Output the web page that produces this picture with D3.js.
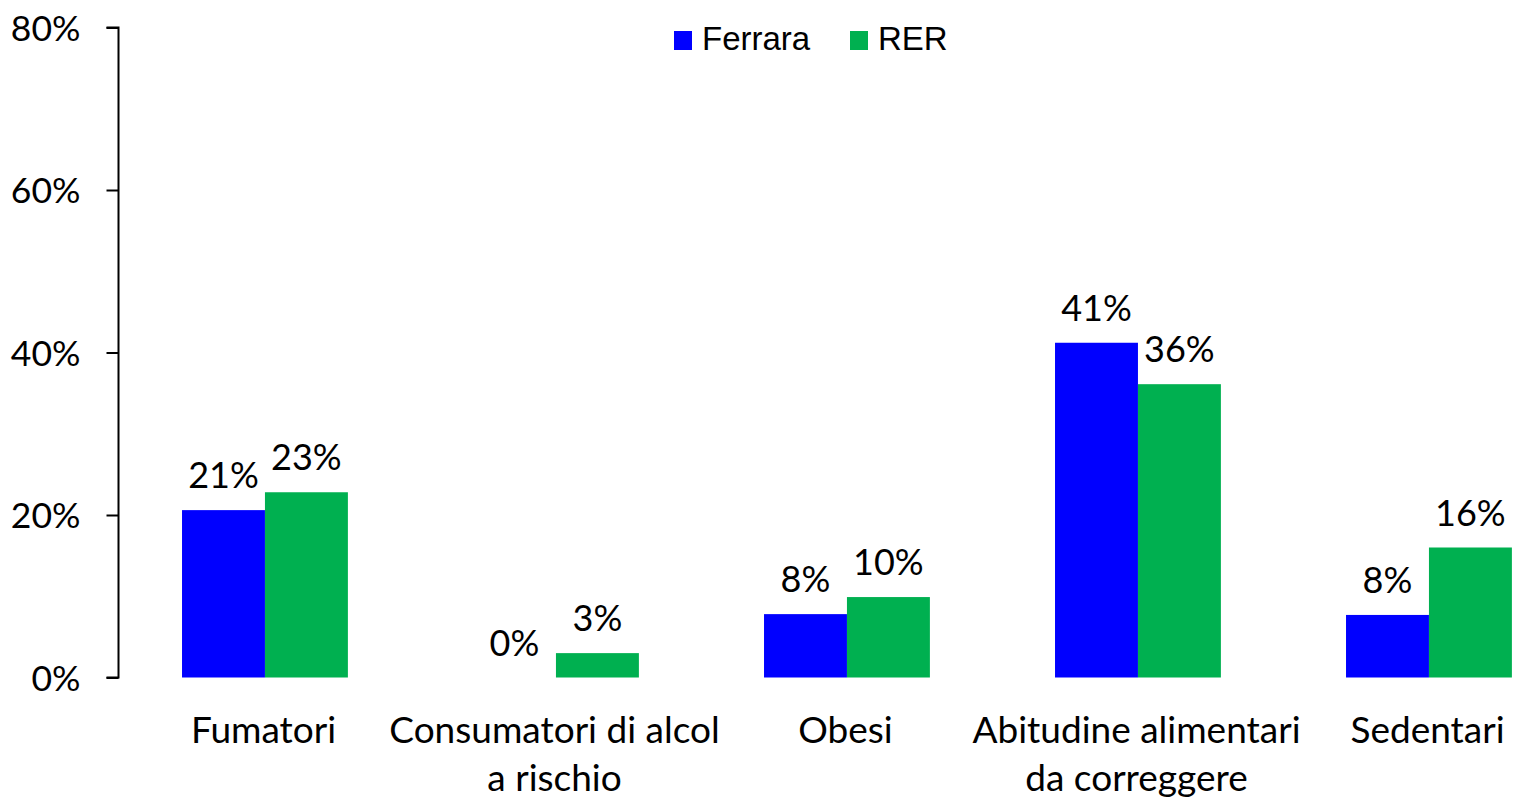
<!DOCTYPE html>
<html>
<head>
<meta charset="utf-8">
<script src="https://cdn.jsdelivr.net/npm/d3@7"></script>
<style>
  html, body { margin: 0; padding: 0; background: #fff; overflow: hidden; }
  svg { display: block; }
</style>
</head>
<body>
<svg id="chart" width="1513" height="799"></svg>
<script>
// Stili di vita: Ferrara vs Emilia-Romagna (quote in %)
const categories = [
  ["Fumatori"],
  ["Consumatori di alcol", "a rischio"],
  ["Obesi"],
  ["Abitudine alimentari", "da correggere"],
  ["Sedentari"]
];
const seriesNames = ["Ferrara", "RER"];
const ferrara = [20.6, 0, 7.8, 41.2, 7.7];
const rer = [22.8, 3.0, 9.9, 36.1, 16.0];
const yTicks = [0, 20, 40, 60, 80];
const colors = ["#0000ff", "#00b050"];

const svg = d3.select("#chart");
const catKeys = categories.map(c => c.join(" "));

const x0 = d3.scaleBand().domain(catKeys).range([118, 1573]).padding(0);
const x1 = d3.scaleBand().domain(seriesNames)
  .range([x0.bandwidth() * 0.22, x0.bandwidth() * 0.79]).padding(0);
const y = d3.scaleLinear().domain([0, 80]).range([677.5, 27.5]);
const color = d3.scaleOrdinal().domain(seriesNames).range(colors);
const fmt = v => d3.format(".0f")(v) + "%";

const labelFont = "Lato, 'Open Sans', sans-serif";

// asse Y
const yAxis = svg.append("g").attr("transform", "translate(118.5,0)")
  .call(d3.axisLeft(y).tickValues(yTicks).tickSize(12).tickPadding(26)
    .tickFormat(d => d + "%"));
yAxis.select(".domain").attr("stroke", "#000").attr("stroke-width", 2)
  .attr("d", `M-12,${y(80)}H0V${y(0)}H-12`);
yAxis.selectAll(".tick line").attr("stroke", "#000").attr("stroke-width", 2);
yAxis.selectAll(".tick text")
  .attr("font-family", labelFont).attr("font-size", 35.5).attr("fill", "#000")
  .attr("dy", "0.36em");

// barre
const rows = catKeys.map((k, i) => ({ key: k, values: [
  { name: "Ferrara", v: ferrara[i] }, { name: "RER", v: rer[i] }
]}));

const groups = svg.append("g").selectAll("g").data(rows).join("g")
  .attr("transform", d => `translate(${x0(d.key)},0)`);

groups.selectAll("rect").data(d => d.values).join("rect")
  .attr("x", d => x1(d.name))
  .attr("width", x1.bandwidth())
  .attr("y", d => y(d.v))
  .attr("height", d => y(0) - y(d.v))
  .attr("fill", d => color(d.name));

groups.selectAll("text.val").data(d => d.values).join("text")
  .attr("class", "val")
  .attr("x", d => x1(d.name) + x1.bandwidth() / 2)
  .attr("y", d => y(d.v) - 22)
  .attr("text-anchor", "middle")
  .attr("font-family", labelFont).attr("font-size", 36).attr("fill", "#000")
  .text(d => fmt(d.v));

// etichette categorie
const catLabels = svg.append("g").selectAll("text").data(categories).join("text")
  .attr("x", (d, i) => x0(catKeys[i]) + x0.bandwidth() / 2)
  .attr("y", 743)
  .attr("text-anchor", "middle")
  .attr("font-family", labelFont).attr("font-size", 37).attr("fill", "#000");
catLabels.selectAll("tspan").data(d => d).join("tspan")
  .attr("x", function() { return this.parentNode.getAttribute("x"); })
  .attr("dy", (d, i) => i === 0 ? 0 : 48)
  .text(d => d);

// legenda
const legendPos = [674, 850];
const legend = svg.append("g").selectAll("g").data(seriesNames).join("g")
  .attr("transform", (d, i) => `translate(${legendPos[i]},31)`);
legend.append("rect").attr("width", 18).attr("height", 19)
  .attr("fill", d => color(d));
legend.append("text").attr("x", 28).attr("y", 19)
  .attr("font-family", "'Liberation Sans', Arial, sans-serif")
  .attr("font-size", 33).attr("fill", "#000")
  .text(d => d);
</script>
</body>
</html>
